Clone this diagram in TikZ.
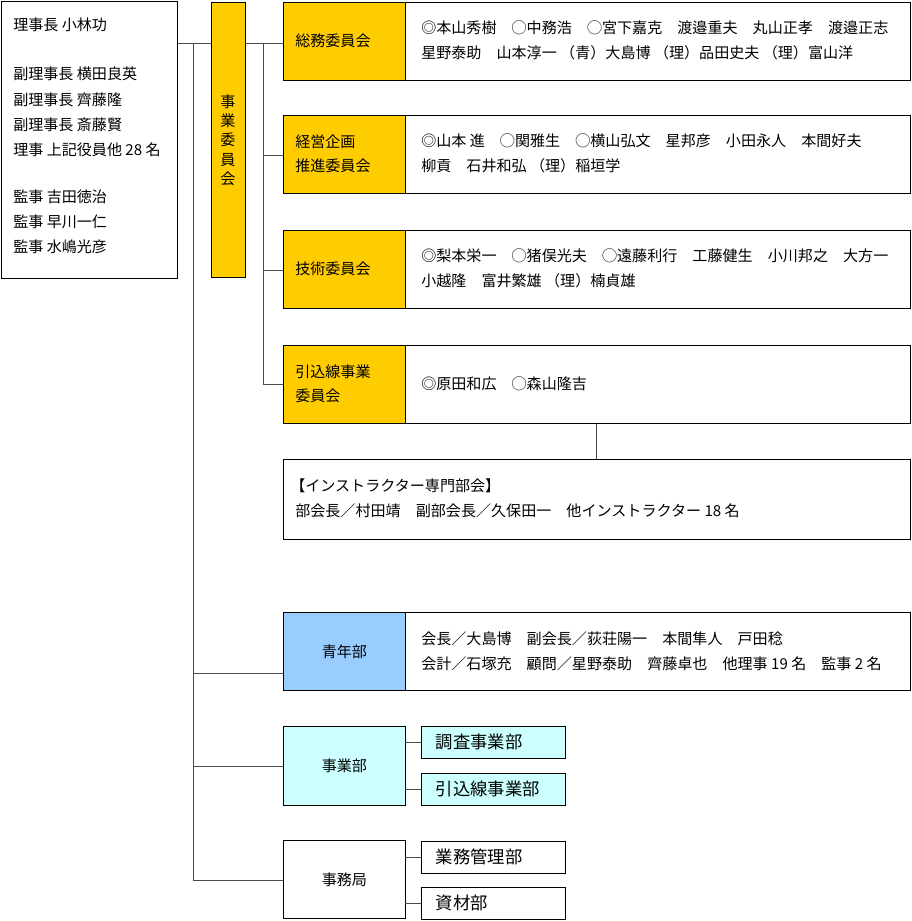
\documentclass[tikz,border=0pt]{standalone}
\usepackage{fontspec}
\setmainfont{Noto Sans CJK JP}
\begin{document}
\begin{tikzpicture}[x=0.75pt,y=-0.75pt,
  bx/.style={draw=black,line width=0.6pt},
  tx/.style={anchor=west,inner sep=0pt,font=\fontsize{11.3pt}{13pt}\selectfont},
  lb/.style={font=\fontsize{11.3pt}{13pt}\selectfont},
  st/.style={anchor=west,font=\fontsize{13pt}{14pt}\selectfont},
  ln/.style={draw=black!70,line width=0.5pt}]
\definecolor{yel}{HTML}{FFCC00}
\definecolor{blu}{HTML}{99CCFF}
\definecolor{cya}{HTML}{CCFFFF}
\useasboundingbox (0,0) rectangle (911,921);
% left box
\node[bx,minimum width=176*0.75pt,minimum height=277*0.75pt,anchor=north west,inner sep=0pt] (L) at (1,1) {};
\foreach \y/\t in {25/理事長 小林功,74/副理事長 横田良英,100/副理事長 齊藤隆,125/副理事長 斎藤賢,150/理事 上記役員他 28 名,197/監事 吉田徳治,222/監事 早川一仁,247/監事 水嶋光彦}
  \node[tx] at (13,\y) {\t};
% bar
\node[bx,fill=yel,minimum width=34*0.75pt,minimum height=275*0.75pt,anchor=north west,inner sep=0pt] (B) at (211,2) {};
\node[font=\fontsize{11.3pt}{14.5pt}\selectfont,align=center] at (228,140) {事\\業\\委\\員\\会};
% committees
\foreach \n/\y/\la/\lb/\lc in {c1/2/総務委員会/{◎本山秀樹　◯中務浩　◯宮下嘉克　渡邉重夫　丸山正孝　渡邉正志}/{星野泰助　山本淳一 （青）大島博 （理）品田史夫 （理）富山洋},
  c2/115/{経営企画\\推進委員会}/{◎山本 進　◯関雅生　◯横山弘文　星邦彦　小田永人　本間好夫}/{柳貢　石井和弘 （理）稲垣学},
  c3/230/技術委員会/{◎梨本栄一　◯猪俣光夫　◯遠藤利行　工藤健生　小川邦之　大方一}/{小越隆　富井繁雄 （理）楠貞雄},
  c4/345/{引込線事業\\委員会}/{}/{}}{
  \node[bx,minimum width=627*0.75pt,minimum height=78*0.75pt,anchor=north west,inner sep=0pt] (\n) at (283,\y) {};
  \node[bx,fill=yel,minimum width=122*0.75pt,minimum height=78*0.75pt,anchor=north west,inner sep=0pt] (\n l) at (283,\y) {};
  \node[tx,align=left,font=\fontsize{11.3pt}{18pt}\selectfont] at (295,\y+39) {\la};
  \node[tx] at (421,\y+26) {\lb};
  \node[tx] at (421,\y+51) {\lc};
}
\node[tx] at (421,384) {◎原田和広　◯森山隆吉};
\node[bx,minimum width=627*0.75pt,minimum height=80*0.75pt,anchor=north west,inner sep=0pt] (ins) at (283,459) {};
\node[tx] at (290,486) {【インストラクター専門部会】};
\node[tx] at (295,511) {部会長／村田靖　副部会長／久保田一　他インストラクター 18 名};
\draw[ln] (596,424) -- (ins.north -| 596,0);
% youth
\node[bx,minimum width=627*0.75pt,minimum height=78*0.75pt,anchor=north west,inner sep=0pt] (y) at (283,612) {};
\node[bx,fill=blu,minimum width=122*0.75pt,minimum height=78*0.75pt,anchor=north west,inner sep=0pt] (yl) at (283,612) {};
\node[lb] at (yl) {青年部};
\node[tx] at (421,639) {会長／大島博　副会長／荻荘陽一　本間隼人　戸田稔};
\node[tx] at (421,664) {会計／石塚充　顧問／星野泰助　齊藤卓也　他理事 19 名　監事 2 名};
% business
\tikzset{sb/.style={bx,minimum width=144*0.75pt,minimum height=32*0.75pt,anchor=north west,inner sep=0pt}}
\node[bx,fill=cya,minimum width=122*0.75pt,minimum height=79*0.75pt,anchor=north west,inner sep=0pt] (j) at (283,726) {};
\node[lb] at (j) {事業部};
\node[sb,fill=cya] (j1) at (421,726) {};
\node[st] at (431,742) {調査事業部};
\node[sb,fill=cya] (j2) at (421,773) {};
\node[st] at (431,789) {引込線事業部};
\node[bx,minimum width=122*0.75pt,minimum height=78*0.75pt,anchor=north west,inner sep=0pt] (m) at (283,840) {};
\node[lb] at (m) {事務局};
\node[sb] (m1) at (421,841) {};
\node[st] at (431,857) {業務管理部};
\node[sb] (m2) at (421,887) {};
\node[st] at (431,903) {資材部};
\draw[ln] (j1.west) -- ++(-16,0); \draw[ln] (j2.west) -- ++(-16,0);
\draw[ln] (m1.west) -- ++(-16,0); \draw[ln] (m2.west) -- ++(-16,0);
% connectors
\draw[ln] (L.east |- 0,43) -- (B.west |- 0,43);
\draw[ln] (B.east |- 0,43) -- (c1l.west |- 0,43);
\draw[ln] (263,43) -- (263,384);
\draw[ln] (263,155) -- (c2l.west |- 0,155);
\draw[ln] (263,270) -- (c3l.west |- 0,270);
\draw[ln] (263,384) -- (c4l.west |- 0,384);
\draw[ln] (193,43) -- (193,880);
\draw[ln] (193,673) -- (yl.west |- 0,673);
\draw[ln] (193,766) -- (j.west |- 0,766);
\draw[ln] (193,880) -- (m.west |- 0,880);
\end{tikzpicture}
\end{document}
